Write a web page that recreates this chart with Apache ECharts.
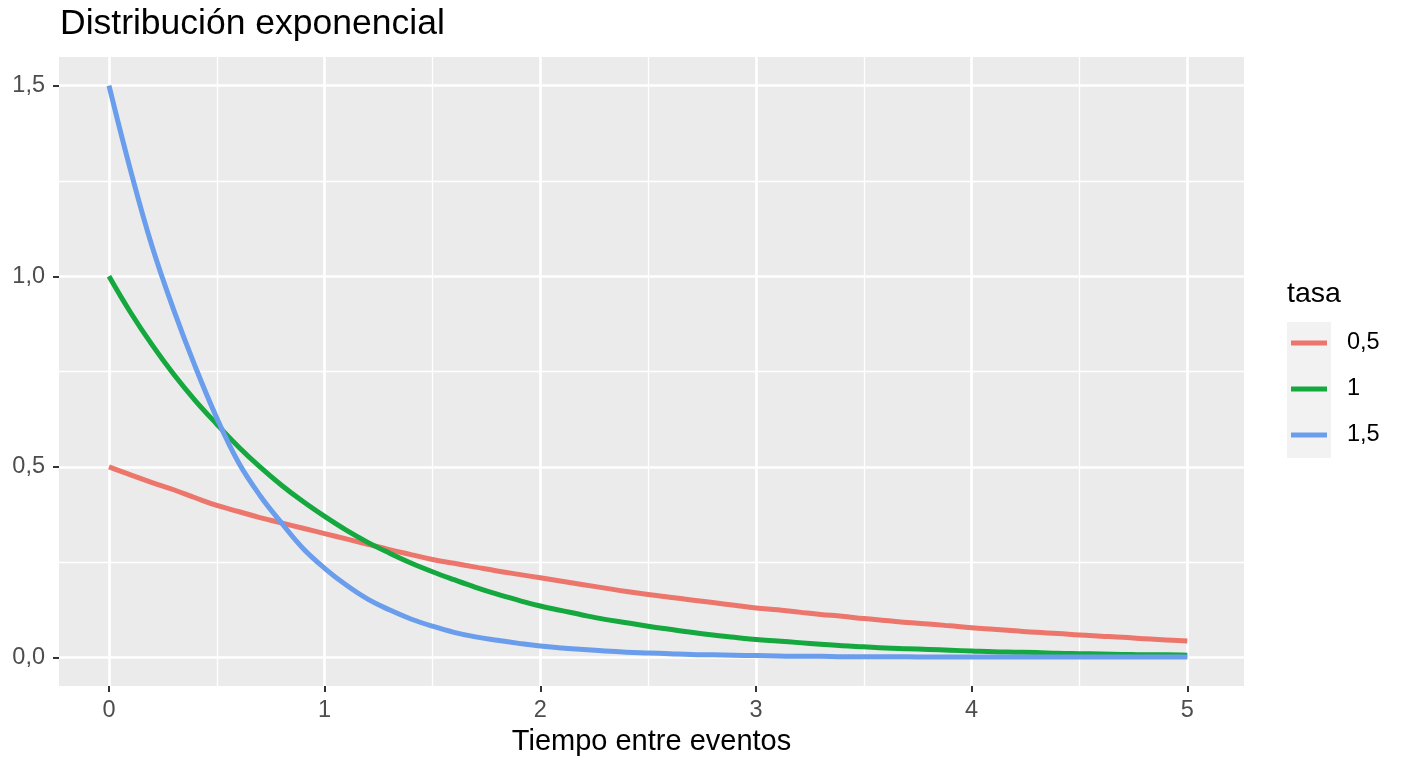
<!DOCTYPE html>
<html><head><meta charset="utf-8">
<script src="https://cdn.jsdelivr.net/npm/echarts@6/dist/echarts.min.js"></script>
<style>html,body{margin:0;padding:0;background:#fff}#c{width:1408px;height:768px}</style>
</head><body><div id="c"></div>
<script>
// Tiempo entre eventos (x)
const xValues = [0,0.1,0.2,0.3,0.4,0.5,0.6,0.7,0.8,0.9,1,1.1,1.2,1.3,1.4,1.5,1.6,1.7,1.8,1.9,2,2.1,2.2,2.3,2.4,2.5,2.6,2.7,2.8,2.9,3,3.1,3.2,3.3,3.4,3.5,3.6,3.7,3.8,3.9,4,4.1,4.2,4.3,4.4,4.5,4.6,4.7,4.8,4.9,5];
// tasa 0,5
const rate05 = [0.500,0.479,0.459,0.440,0.419,0.399,0.383,0.367,0.353,0.339,0.325,0.311,0.297,0.283,0.270,0.257,0.247,0.237,0.227,0.218,0.209,0.200,0.191,0.182,0.173,0.165,0.158,0.151,0.144,0.137,0.130,0.125,0.119,0.113,0.108,0.102,0.097,0.092,0.088,0.083,0.078,0.074,0.070,0.066,0.063,0.059,0.056,0.053,0.049,0.046,0.043];
// tasa 1
const rate1 = [1.000,0.905,0.820,0.743,0.674,0.612,0.553,0.500,0.452,0.409,0.370,0.334,0.302,0.274,0.248,0.225,0.204,0.184,0.166,0.150,0.135,0.123,0.111,0.100,0.091,0.082,0.074,0.066,0.059,0.053,0.047,0.043,0.039,0.035,0.031,0.028,0.025,0.023,0.021,0.019,0.017,0.015,0.014,0.013,0.011,0.010,0.009,0.008,0.007,0.007,0.006];
// tasa 1,5
const rate15 = [1.500,1.278,1.078,0.912,0.763,0.628,0.512,0.425,0.353,0.286,0.234,0.190,0.153,0.125,0.101,0.082,0.066,0.054,0.045,0.037,0.030,0.025,0.021,0.017,0.014,0.012,0.010,0.008,0.007,0.006,0.005,0.004,0.003,0.003,0.002,0.002,0.002,0.002,0.001,0.001,0.001,0.001,0.001,0.001,0.001,0.001,0.001,0.001,0.001,0.001,0.001];
const seriesNames = ['0,5','1','1,5'];
const seriesColors = ['#EC756C','#14A83E','#6A9DEB'];
const xMajorTicks = [0,1,2,3,4,5];
const xMinorTicks = [0.5,1.5,2.5,3.5,4.5];
const yMajorTicks = [0,0.5,1,1.5];
const yMinorTicks = [0.25,0.75,1.25];

const FONT = '"Liberation Sans", Arial, Helvetica, sans-serif';
const chart = echarts.init(document.getElementById('c'), null, {renderer:'canvas'});
const pairs = ys => xValues.map((x,i)=>[x, ys[i]]);
const allSeries = [rate05, rate1, rate15];

const xr = [-0.2318, 5.263], yr = [-0.0748, 1.5753];
function majorAxis(min, max, ticks, fmt, margin, extra){
  return Object.assign({
    type:'value', min:min, max:max,
    axisLine:{show:false, onZero:false},
    axisTick:{show:true, length:6, lineStyle:{color:'#333333', width:2}, customValues:ticks},
    axisLabel:{customValues:ticks, fontSize:23.5, color:'#4D4D4D', fontFamily:FONT, formatter:fmt, margin:margin},
    splitLine:{show:true, lineStyle:{color:'#FFFFFF', width:2.6}},
    minorSplitLine:{show:false}
  }, extra);
}
function minorAxis(min, max, ticks, extra){
  return Object.assign({
    type:'value', min:min, max:max,
    axisLine:{show:false, onZero:false},
    axisTick:{show:false, customValues:ticks},
    axisLabel:{show:false, customValues:ticks},
    splitLine:{show:true, lineStyle:{color:'#FFFFFF', width:1.3}}
  }, extra);
}
const fmtX = v => String(v).replace('.', ',');
const fmtY = v => v.toFixed(1).replace('.', ',');

chart.setOption({
  animation:false,
  backgroundColor:'#FFFFFF',
  title:[
    {text:'Distribución exponencial', left:60, top:6, padding:0,
     textStyle:{fontSize:35.5, fontWeight:'normal', color:'#000', fontFamily:FONT}},
    {text:'tasa', left:1287, top:280, padding:0,
     textStyle:{fontSize:28.5, fontWeight:'normal', color:'#000', fontFamily:FONT}}
  ],
  graphic:[
    {type:'rect', left:1287, top:322, shape:{width:44, height:136}, style:{fill:'#F2F2F2'}, z:-1}
  ],
  grid:{left:59, right:164, top:57, bottom:82, show:true, backgroundColor:'#EBEBEB', borderWidth:0,
        containLabel:false, outerBoundsMode:'none'},
  xAxis:[
    majorAxis(xr[0], xr[1], xMajorTicks, fmtX, 13, {position:'bottom',
      name:'Tiempo entre eventos', nameLocation:'middle', nameGap:41, nameMoveOverlap:false,
      nameTextStyle:{fontSize:29, color:'#000', fontFamily:FONT}}),
    minorAxis(xr[0], xr[1], xMinorTicks, {position:'bottom'})
  ],
  yAxis:[
    majorAxis(yr[0], yr[1], yMajorTicks, fmtY, 14, {position:'left'}),
    minorAxis(yr[0], yr[1], yMinorTicks, {position:'left'})
  ],
  legend:{
    data:seriesNames, orient:'vertical', left:1291, top:331, padding:0,
    icon:'rect', itemWidth:36, itemHeight:5, itemGap:22,
    textStyle:{fontSize:23.5, color:'#000', fontFamily:FONT, padding:[0,0,0,15]},
    selectedMode:false
  },
  series: allSeries.map((ys,i)=>({
    name:seriesNames[i], type:'line', xAxisIndex:0, yAxisIndex:0,
    data:pairs(ys), showSymbol:false, smooth:0.4,
    lineStyle:{color:seriesColors[i], width:5, cap:'butt', join:'round'}, itemStyle:{color:seriesColors[i]},
    emphasis:{disabled:true}, z:3
  }))
});
</script></body></html>
